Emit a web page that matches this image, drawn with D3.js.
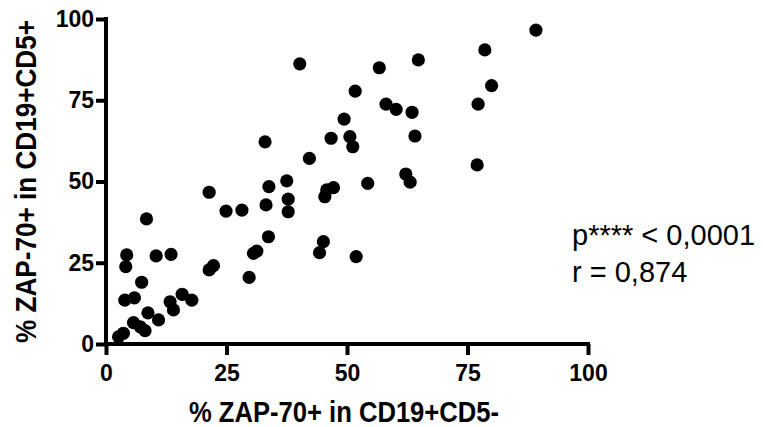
<!DOCTYPE html>
<html>
<head>
<meta charset="utf-8">
<script src="https://cdn.jsdelivr.net/npm/d3@7"></script>
<style>
  html, body { margin: 0; padding: 0; background: #fff; }
  svg { display: block; }
</style>
</head>
<body>
<svg id="chart" width="763" height="427"></svg>
<script>
// % ZAP-70+ in CD19+CD5- (x) vs % ZAP-70+ in CD19+CD5+ (y)
const xValues = [89.2, 78.6, 80.0, 77.2, 77.0, 64.8, 56.7, 40.2, 51.7, 58.1, 60.2, 63.5, 64.1, 62.2, 63.1, 54.3,
  49.4, 46.7, 50.6, 51.2, 42.2, 33.0, 47.2, 45.8, 45.4, 45.1, 44.3, 51.9, 37.5, 37.8, 37.8, 33.8, 33.2, 33.7,
  28.2, 24.9, 21.4, 31.3, 30.6, 29.7, 22.3, 21.4, 8.4, 4.3, 4.1, 10.4, 13.5, 7.4, 3.9, 5.9, 8.7, 10.9, 13.3,
  14.0, 15.8, 17.8, 5.7, 7.1, 8.1, 3.6, 2.6];
const yValues = [96.6, 90.5, 79.5, 73.8, 55.1, 87.4, 85.0, 86.2, 77.8, 73.8, 72.2, 71.3, 64.0, 52.3, 49.8, 49.4,
  69.2, 63.3, 63.8, 60.7, 57.1, 62.2, 48.1, 47.4, 45.3, 31.5, 28.1, 26.9, 50.2, 44.6, 40.7, 48.4, 42.8, 33.0,
  41.2, 40.9, 46.7, 28.6, 27.9, 20.5, 24.1, 22.8, 38.5, 27.4, 23.8, 27.1, 27.6, 19.0, 13.5, 14.2, 9.6, 7.4, 13.0,
  10.5, 15.3, 13.5, 6.6, 5.3, 4.1, 3.3, 2.2];
const xTicks = [0, 25, 50, 75, 100];
const yTicks = [0, 25, 50, 75, 100];
const xTitle = "% ZAP-70+ in CD19+CD5-";
const yTitle = "% ZAP-70+ in CD19+CD5+";
const statLines = ["p**** < 0,0001", "r = 0,874"];

const points = xValues.map((x, i) => ({ x, y: yValues[i] }));

const svg = d3.select("#chart");
const x = d3.scaleLinear().domain([0, 100]).range([106, 588]);
const y = d3.scaleLinear().domain([0, 100]).range([344, 19]);

const font = "'Liberation Sans', Arial, Helvetica, sans-serif";

// axes
const xAxis = svg.append("g")
  .attr("transform", `translate(0,${y(0)})`)
  .call(d3.axisBottom(x).tickValues(xTicks).tickSize(11).tickPadding(10).tickFormat(d3.format("d")));
const yAxis = svg.append("g")
  .attr("transform", `translate(${x(0)},0)`)
  .call(d3.axisLeft(y).tickValues(yTicks).tickSize(10).tickPadding(2).tickFormat(d3.format("d")));

[xAxis, yAxis].forEach(g => {
  g.select(".domain").attr("stroke", "#000").attr("stroke-width", 4)
    .attr("stroke-linecap", "square");
  g.selectAll(".tick line").attr("stroke", "#000").attr("stroke-width", 4);
  g.selectAll(".tick text").attr("fill", "#000")
    .style("font-family", font).style("font-weight", "bold").style("font-size", "23px");
});
xAxis.select(".domain").attr("d", `M${x(0)},0H${x(100)}`);
yAxis.select(".domain").attr("d", `M0,${y(0)}V${y(100)}`);

// points
svg.append("g").selectAll("circle")
  .data(points)
  .join("circle")
  .attr("cx", d => x(d.x))
  .attr("cy", d => y(d.y))
  .attr("r", 6.6)
  .attr("fill", "#000");

// axis titles
svg.append("text")
  .attr("x", x(50) - 3).attr("y", 422)
  .attr("text-anchor", "middle")
  .attr("textLength", 310).attr("lengthAdjust", "spacingAndGlyphs")
  .style("font-family", font).style("font-weight", "bold").style("font-size", "29px")
  .text(xTitle);

svg.append("text")
  .attr("transform", `translate(36,${(y(0) + y(100)) / 2}) rotate(-90)`)
  .attr("text-anchor", "middle")
  .attr("textLength", 323).attr("lengthAdjust", "spacingAndGlyphs")
  .style("font-family", font).style("font-weight", "bold").style("font-size", "29px")
  .text(yTitle);

// statistics
svg.append("g").selectAll("text")
  .data(statLines)
  .join("text")
  .attr("x", 572)
  .attr("y", (d, i) => 245 + i * 37)
  .style("font-family", font).style("font-size", "29px")
  .attr("fill", "#000")
  .text(d => d);
</script>
</body>
</html>
